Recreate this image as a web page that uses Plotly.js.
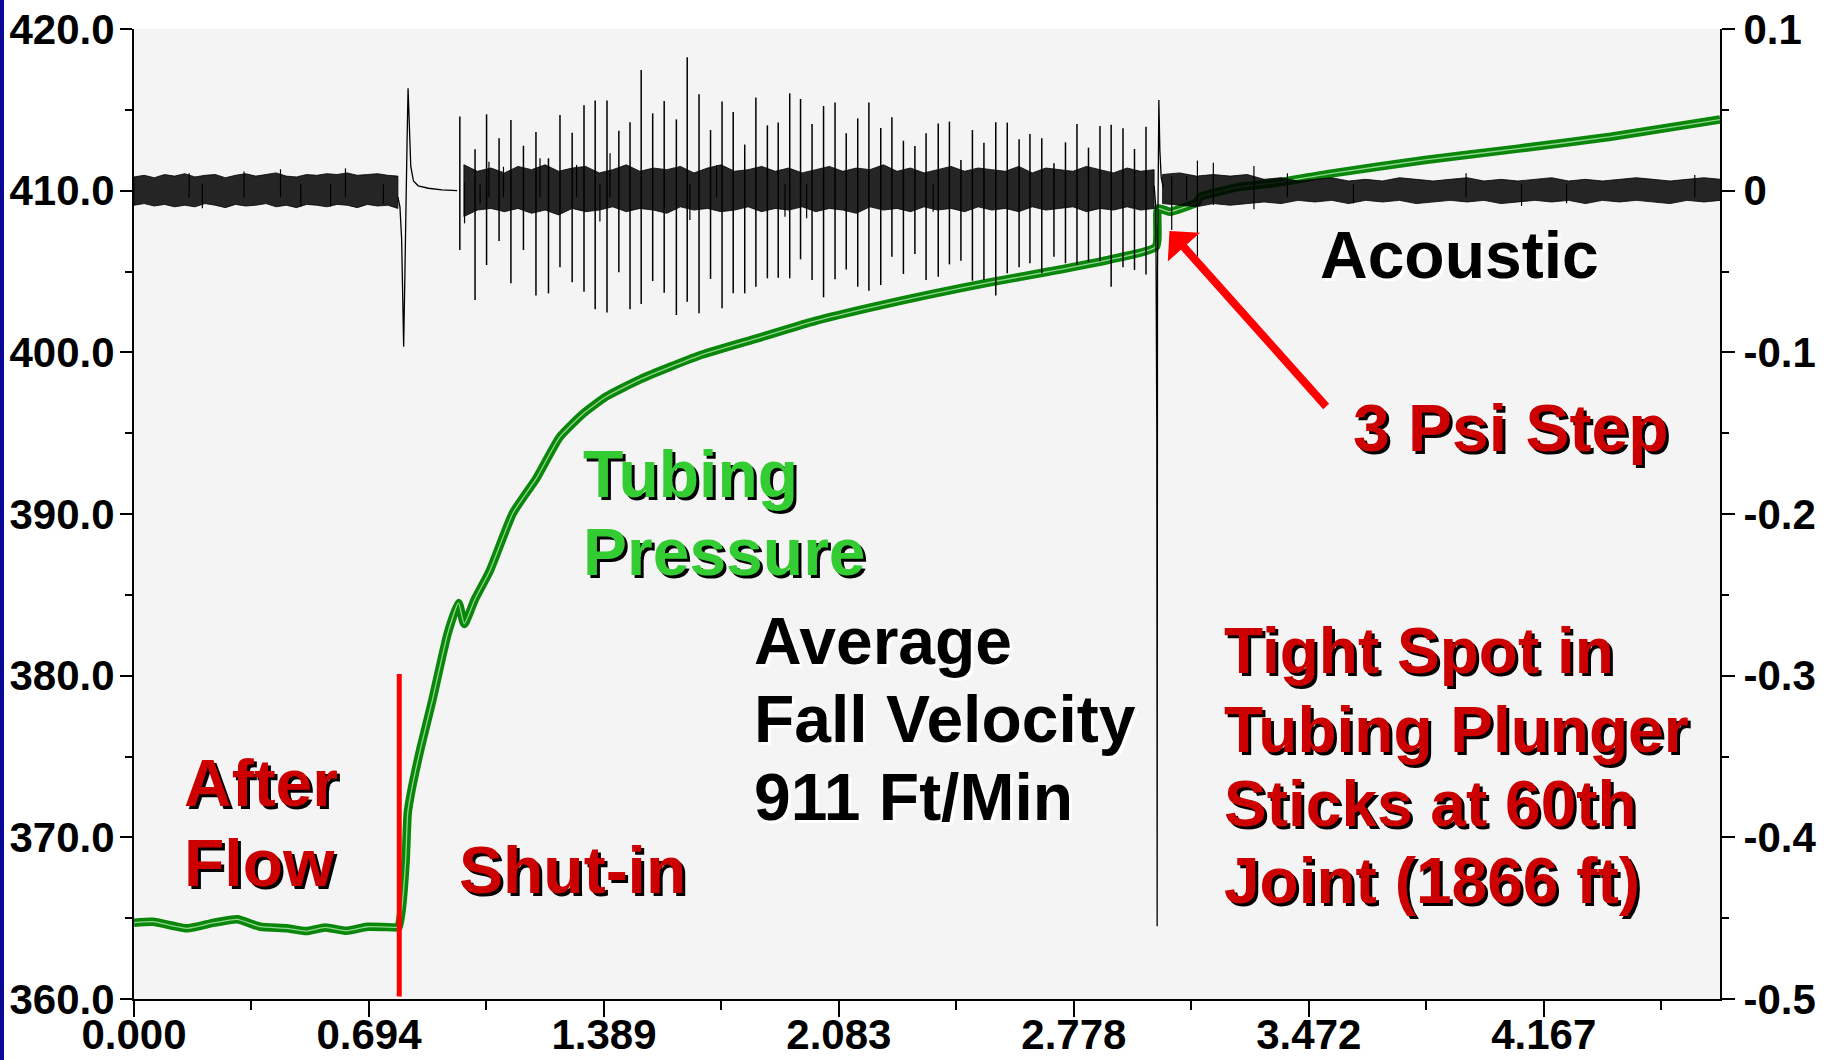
<!DOCTYPE html>
<html><head><meta charset="utf-8">
<script src="https://cdn.plot.ly/plotly-3.0.1.min.js"></script>
<style>
html,body{margin:0;padding:0;background:#fff;}
#wrap{position:relative;width:1828px;height:1060px;overflow:hidden;}
#chart{width:1828px;height:1060px;}
#edge{position:absolute;left:0;top:0;width:4px;height:1060px;background:#0a0a96;z-index:5;}
</style></head>
<body><div id="wrap"><div id="chart"></div><div id="edge"></div></div>
<script>
// ---------- Tubing pressure (psi, left axis) ----------
const pressT = [0,0.056,0.158,0.237,0.305,0.373,0.452,0.508,0.565,0.628,0.690,0.775,0.782,0.791,0.803,0.809,0.820,0.848,0.882,0.927,0.959,0.976,1.007,1.051,1.120,1.189,1.258,1.327,1.396,1.499,1.671,1.844,2.016,2.188,2.360,2.533,2.705,2.877,3.020,3.027,3.061,3.143,3.150,3.272,3.363,3.541,3.816,4.091,4.365,4.688];
const pressPsi = [364.72,364.78,364.37,364.72,364.93,364.47,364.37,364.20,364.43,364.22,364.47,364.43,364.45,365.5,368.6,371.5,372.9,375.6,378.5,382.6,384.5,383.2,384.7,386.46,390.06,392.2,394.75,396.2,397.27,398.36,399.8,400.88,401.96,402.83,403.62,404.34,405.0,405.71,406.53,408.9,408.7,409.3,409.6,410.25,410.45,411.07,411.9,412.6,413.34,414.4];

// ---------- Acoustic (right axis) ----------
// noise envelope, segment A (after flow)
const noiseAT = [0.00,0.03,0.06,0.09,0.12,0.15,0.18,0.21,0.24,0.27,0.30,0.33,0.36,0.39,0.42,0.45,0.48,0.51,0.54,0.57,0.60,0.63,0.66,0.69,0.72,0.75,0.78];
const noiseAHi = [0.0085,0.0095,0.0080,0.0100,0.0090,0.0105,0.0085,0.0095,0.0100,0.0080,0.0095,0.0105,0.0090,0.0100,0.0110,0.0090,0.0085,0.0100,0.0095,0.0105,0.0100,0.0110,0.0095,0.0100,0.0105,0.0095,0.0090];
const noiseALo = [-0.0090,-0.0080,-0.0095,-0.0085,-0.0100,-0.0090,-0.0100,-0.0080,-0.0090,-0.0105,-0.0085,-0.0095,-0.0090,-0.0080,-0.0100,-0.0090,-0.0105,-0.0085,-0.0090,-0.0100,-0.0085,-0.0090,-0.0105,-0.0085,-0.0095,-0.0090,-0.0110];
// segment B (plunger falling)
const noiseBT = [0.975,1.015,1.055,1.095,1.135,1.175,1.215,1.255,1.295,1.335,1.375,1.415,1.455,1.495,1.535,1.575,1.615,1.655,1.695,1.735,1.775,1.815,1.855,1.895,1.935,1.975,2.015,2.055,2.095,2.135,2.175,2.215,2.255,2.295,2.335,2.375,2.415,2.455,2.495,2.535,2.575,2.615,2.655,2.695,2.735,2.775,2.815,2.855,2.895,2.935,2.975,3.015];
const noiseBHi = [0.016,0.012,0.014,0.011,0.015,0.013,0.016,0.012,0.014,0.015,0.011,0.013,0.016,0.012,0.014,0.013,0.015,0.011,0.014,0.016,0.012,0.013,0.015,0.012,0.014,0.011,0.013,0.015,0.012,0.014,0.013,0.016,0.012,0.014,0.011,0.013,0.015,0.012,0.014,0.013,0.012,0.015,0.011,0.014,0.013,0.012,0.015,0.013,0.011,0.014,0.012,0.013];
const noiseBLo = [-0.016,-0.012,-0.011,-0.013,-0.011,-0.014,-0.012,-0.015,-0.011,-0.013,-0.012,-0.010,-0.013,-0.011,-0.012,-0.014,-0.010,-0.012,-0.011,-0.013,-0.012,-0.010,-0.013,-0.011,-0.012,-0.010,-0.013,-0.011,-0.012,-0.014,-0.010,-0.012,-0.011,-0.013,-0.010,-0.012,-0.011,-0.013,-0.010,-0.012,-0.011,-0.013,-0.010,-0.012,-0.011,-0.010,-0.013,-0.011,-0.012,-0.010,-0.012,-0.011];
// segment C (plunger stuck)
const noiseCT = [3.04,3.09,3.14,3.19,3.24,3.29,3.34,3.39,3.44,3.49,3.54,3.59,3.64,3.69,3.74,3.79,3.84,3.89,3.94,3.99,4.04,4.09,4.14,4.19,4.24,4.29,4.34,4.39,4.44,4.49,4.54,4.59,4.64,4.69];
const noiseCHi = [0.010,0.011,0.009,0.010,0.009,0.010,0.007,0.008,0.006,0.007,0.008,0.006,0.007,0.006,0.008,0.007,0.006,0.007,0.008,0.006,0.007,0.006,0.007,0.008,0.006,0.007,0.006,0.007,0.008,0.007,0.006,0.007,0.008,0.007];
const noiseCLo = [-0.008,-0.009,-0.010,-0.008,-0.009,-0.008,-0.007,-0.008,-0.006,-0.007,-0.006,-0.008,-0.006,-0.007,-0.006,-0.008,-0.007,-0.006,-0.007,-0.006,-0.008,-0.007,-0.006,-0.007,-0.006,-0.008,-0.006,-0.007,-0.006,-0.007,-0.008,-0.006,-0.007,-0.006];

// shut-in acoustic event
const shutT = [0.780,0.786,0.791,0.794,0.797,0.800,0.804,0.807,0.810,0.813,0.818,0.826,0.840,0.870,0.910,0.955];
const shutV = [-0.004,-0.010,-0.030,-0.060,-0.0965,-0.060,-0.020,0.030,0.0633,0.040,0.015,0.006,0.003,0.0015,0.0005,0.000];
// plunger stop event
const stopT = [3.015,3.020,3.023,3.024,3.025,3.027,3.029,3.032,3.036,3.042];
const stopV = [0.003,-0.010,-0.150,-0.455,-0.050,0.020,0.0561,0.025,0.008,0.002];

// collar spikes
const spikeT = [0.963,1.008,1.042,1.079,1.114,1.151,1.188,1.225,1.259,1.295,1.330,1.363,1.398,1.433,1.466,1.499,1.533,1.567,1.603,1.635,1.670,1.704,1.738,1.771,1.805,1.838,1.872,1.904,1.938,1.970,2.004,2.038,2.072,2.105,2.139,2.172,2.207,2.240,2.274,2.308,2.341,2.377,2.410,2.444,2.478,2.512,2.547,2.581,2.616,2.648,2.683,2.719,2.753,2.787,2.821,2.855,2.888,2.923,2.957,2.991];
const spikeTop = [0.0458,0.0256,0.0472,0.0324,0.0437,0.0278,0.0363,0.0200,0.0468,0.0359,0.0528,0.0557,0.0557,0.0371,0.0423,0.0746,0.0478,0.0555,0.0441,0.0825,0.0596,0.0375,0.0551,0.0487,0.0285,0.0577,0.0404,0.0421,0.0602,0.0567,0.0412,0.0524,0.0546,0.0355,0.0447,0.0546,0.0388,0.0454,0.0309,0.0276,0.0355,0.0416,0.0427,0.0190,0.0375,0.0297,0.0423,0.0421,0.0318,0.0351,0.0324,0.0169,0.0299,0.0412,0.0266,0.0400,0.0408,0.0386,0.0258,0.0396];
const spikeBot = [-0.0367,-0.0676,-0.0460,-0.0311,-0.0573,-0.0367,-0.0649,-0.0635,-0.0474,-0.0567,-0.0625,-0.0734,-0.0753,-0.0505,-0.0734,-0.0701,-0.0559,-0.0631,-0.0769,-0.0687,-0.0759,-0.0546,-0.0728,-0.0635,-0.0635,-0.0594,-0.0542,-0.0538,-0.0542,-0.0425,-0.0553,-0.0660,-0.0548,-0.0487,-0.0594,-0.0619,-0.0584,-0.0408,-0.0515,-0.0392,-0.0553,-0.0532,-0.0456,-0.0433,-0.0557,-0.0553,-0.0649,-0.0511,-0.0474,-0.0449,-0.0511,-0.0408,-0.0449,-0.0460,-0.0441,-0.0437,-0.0594,-0.0474,-0.0491,-0.0518];
// small noise hairs
const hairT = [0.163,0.202,0.325,0.433,0.493,0.581,0.625,0.737,0.977,1.023,1.049,1.092,1.200,1.308,1.377,1.407,1.643,1.722,1.924,1.988,2.362,3.067,3.111,3.143,3.190,3.310,3.409,3.604,3.937,4.101,4.234,4.613];
const hairHi = [0.0107,0.004,0.0118,0.0132,0.004,0.004,0.0138,0.004,0.005,0.004,0.0179,0.0148,0.0200,0.0159,0.004,0.0231,0.004,0.0159,0.004,0.004,0.004,0.0087,0.009,0.0186,0.0173,0.0153,0.0107,0.004,0.0107,0.004,0.004,0.0097];
const hairLo = [-0.004,-0.0109,-0.004,-0.004,-0.0099,-0.0099,-0.004,-0.0082,-0.0202,-0.0078,-0.004,-0.004,-0.004,-0.004,-0.0191,-0.004,-0.0181,-0.004,-0.0161,-0.0171,-0.0130,-0.0243,-0.006,-0.0408,-0.0089,-0.0115,-0.004,-0.0078,-0.004,-0.0095,-0.0078,-0.004];

// shut-in marker
const shutInX = [0.784,0.784];
const shutInY = [360.15,380.1];

// axis ticks
const xTickStep = 25/36;
const acTickVals = [0.1,0,-0.1,-0.2,-0.3,-0.4,-0.5];
const acTickText = ['0.1','0','-0.1','-0.2','-0.3','-0.4','-0.5'];

// ---------- build traces ----------
function band(ts, hi, lo, bx, by){
  const n = Math.min(ts.length, hi.length, lo.length);
  for(let i=0;i<n;i++){bx.push(ts[i]);by.push(hi[i]);}
  for(let i=n-1;i>=0;i--){bx.push(ts[i]);by.push(lo[i]);}
  bx.push(ts[0]);by.push(hi[0]);
  bx.push(null);by.push(null);
}
const bx=[],by=[];
band(noiseAT,noiseAHi,noiseALo,bx,by);
band(noiseBT,noiseBHi,noiseBLo,bx,by);
band(noiseCT,noiseCHi,noiseCLo,bx,by);

function segs(ts, a, b){
  const x=[],y=[];
  const n=Math.min(ts.length,a.length,b.length);
  for(let i=0;i<n;i++){x.push(ts[i],ts[i],null);y.push(a[i],b[i],null);}
  return {x,y};
}
const sp = segs(spikeT,spikeTop,spikeBot);
const hr = segs(hairT,hairHi,hairLo);

const traces = [
  {x:pressT,y:pressPsi,type:'scatter',mode:'lines',yaxis:'y',line:{color:'#0a860a',width:8.5,shape:'spline',smoothing:0.5},hoverinfo:'skip'},
  {x:pressT,y:pressPsi,type:'scatter',mode:'lines',yaxis:'y',line:{color:'#8fd88f',width:1.3,shape:'spline',smoothing:0.5},hoverinfo:'skip'},
  {x:shutInX,y:shutInY,type:'scatter',mode:'lines',yaxis:'y',line:{color:'#ff0000',width:5},hoverinfo:'skip'},
  {x:bx,y:by,type:'scatter',mode:'lines',yaxis:'y2',fill:'toself',fillcolor:'rgba(0,0,0,0.85)',line:{color:'#000',width:0.8},hoverinfo:'skip'},
  {x:shutT,y:shutV,type:'scatter',mode:'lines',yaxis:'y2',line:{color:'#000',width:1.3},hoverinfo:'skip'},
  {x:stopT,y:stopV,type:'scatter',mode:'lines',yaxis:'y2',line:{color:'#000',width:1.3},hoverinfo:'skip'},
  {x:sp.x,y:sp.y,type:'scatter',mode:'lines',yaxis:'y2',line:{color:'#000',width:1.5},hoverinfo:'skip'},
  {x:hr.x,y:hr.y,type:'scatter',mode:'lines',yaxis:'y2',line:{color:'#000',width:1.2},hoverinfo:'skip'}
];

// ---------- layout ----------
const FONT = 'Liberation Sans, Arial, Helvetica, sans-serif';
const tickFont = {family:FONT,size:42,color:'#000',weight:'bold'};
const L=134,R=1720,T=29,B=999;
const px = v => (v-L)/(R-L);
const py = v => (B-v)/(B-T);
const RED='#cc0000', GREEN='#33cc33';
const SH_BLACK='3px 3px 0px #000000', SH_WHITE='3px 3px 0px #ffffff';
function lab(text,x,y,color,shadow,size){
  return {text:text,xref:'paper',yref:'paper',x:px(x),y:py(y),xanchor:'left',yanchor:'middle',showarrow:false,
    font:{family:FONT,size:size,color:color,weight:'bold',shadow:shadow}};
}
const annotations = [
  lab('After',182,783,RED,SH_BLACK,66),
  lab('Flow',182,863,RED,SH_BLACK,66),
  lab('Shut-in',457,870,RED,SH_BLACK,66),
  lab('Tubing',581,474,GREEN,SH_BLACK,66),
  lab('Pressure',581,552,GREEN,SH_BLACK,66),
  lab('Average',752,641,'#000',SH_WHITE,66),
  lab('Fall Velocity',752,719,'#000',SH_WHITE,66),
  lab('911 Ft/Min',752,797,'#000',SH_WHITE,66),
  lab('Tight Spot in',1222,651,RED,SH_BLACK,64),
  lab('Tubing Plunger',1222,730,RED,SH_BLACK,64),
  lab('Sticks at 60th',1222,804,RED,SH_BLACK,64),
  lab('Joint (1866 ft)',1222,881,RED,SH_BLACK,64),
  lab('Acoustic',1318,255,'#000',SH_WHITE,66),
  lab('3 Psi Step',1351,428,RED,SH_BLACK,66),
  {text:'',xref:'paper',yref:'paper',x:px(1169.5),y:py(231),ax:158,ay:177,showarrow:true,
   arrowhead:1,arrowsize:0.9,arrowwidth:8,arrowcolor:'#ff0000',standoff:0}
];

const axBase = {showline:true,linewidth:2,linecolor:'#000',showgrid:false,zeroline:false,ticks:'outside',tickwidth:2,tickcolor:'#000',tickfont:tickFont};
const layout = {
  width:1828,height:1060,
  margin:{l:L,r:1828-R,t:T,b:1060-B,pad:0},
  paper_bgcolor:'#ffffff',plot_bgcolor:'#f4f4f4',
  showlegend:false,
  xaxis:Object.assign({},axBase,{range:[0,4.6875],tick0:0,dtick:xTickStep,tickformat:'.3f',ticklen:16,ticklabelstandoff:-18,
    minor:{tick0:0,dtick:xTickStep/2,ticks:'outside',ticklen:9,tickwidth:2,tickcolor:'#000',showgrid:false}}),
  yaxis:Object.assign({},axBase,{range:[360,420],tick0:360,dtick:10,tickformat:'.1f',ticklen:12,ticklabelstandoff:-3,
    minor:{tick0:360,dtick:5,ticks:'outside',ticklen:7,tickwidth:2,tickcolor:'#000',showgrid:false}}),
  yaxis2:Object.assign({},axBase,{overlaying:'y',side:'right',range:[-0.5,0.1],tickmode:'array',tickvals:acTickVals,ticktext:acTickText,ticklen:13,
    minor:{tickmode:'linear',tick0:-0.5,dtick:0.05,ticks:'outside',ticklen:7,tickwidth:2,tickcolor:'#000',showgrid:false}}),
  annotations:annotations
};
Plotly.newPlot('chart',traces,layout,{staticPlot:true,displayModeBar:false});
</script>
</body></html>
